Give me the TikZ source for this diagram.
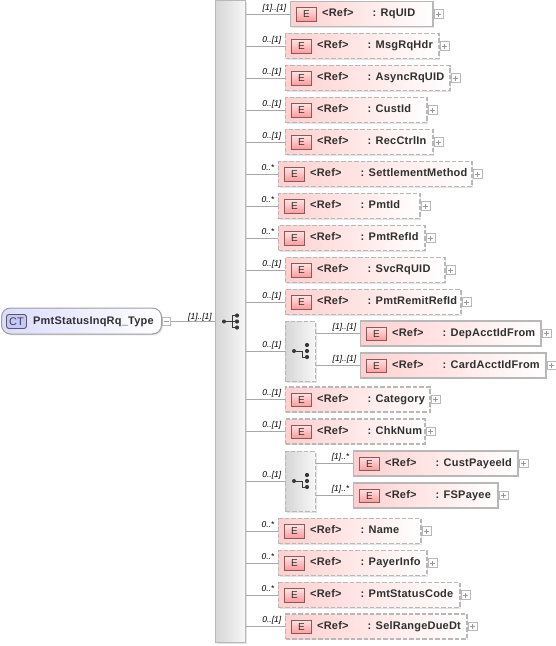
\documentclass[tikz,border=0pt]{standalone}
\usepackage{fontspec}
\setmainfont{Liberation Sans}
\newfontfamily\labelfont[LetterSpace=2]{Liberation Sans}
\usetikzlibrary{shadows,calc}
\definecolor{edge}{HTML}{B8B8B8}
\definecolor{pinkL}{HTML}{FFD0D0}
\definecolor{iconB}{HTML}{8A5A5A}
\definecolor{txt}{HTML}{303030}
\definecolor{conn}{HTML}{A8A8A8}
\tikzset{
  x=1pt,y=-1pt,
  softshadow/.style={general shadow={shadow xshift=1.4pt,shadow yshift=-1.4pt,fill=black,opacity=.11}},
  elbase/.style={softshadow,draw=edge,line width=1.2pt,left color=pinkL,right color=white,inner sep=0,minimum height=25pt,anchor=west},
  solidel/.style={elbase},
  dashel/.style={elbase,dash pattern=on 4.5pt off 2pt},
  eicon/.style={draw=iconB,line width=.9pt,top color=pinkL!60,bottom color=red!40!white,minimum width=20pt,minimum height=13.5pt,inner sep=0,text=txt,font=\fontsize{10}{10}\selectfont},
  reftxt/.style={inner sep=0,anchor=base west,text=txt,font=\fontsize{11}{11}\labelfont\bfseries},
  mult/.style={inner sep=0,anchor=base east,text=black,font=\fontsize{8.5}{9}\selectfont\itshape},
  plusbox/.style={draw=black!28,line width=.6pt,fill=white,minimum size=8.5pt,inner sep=0,anchor=west},
  link/.style={draw=conn,line width=.9pt},
  compbox/.style={softshadow,draw=edge,line width=1pt,left color=black!16,right color=black!3,inner sep=0},
  dot/.style={circle,fill=black!78,inner sep=0,minimum size=4.2pt},
}
% \elem{name}{style}{left}{right}{centre y}{multiplicity}{label}{link from}
\newcommand{\elem}[8]{%
  \pgfmathsetlengthmacro{\elwidth}{#4-#3-.6}%
  \node[#2,minimum width=\elwidth] (#1) at (#3,#5) {};
  \node[eicon] (#1i) at (#3+16.5,#5+.5) {E};
  \node[reftxt] (#1r) at (#3+32,#5+2.5) {<Ref>};
  \node[reftxt] (#1t) at (#3+82.5,#5+2.5) {#7};
  \node[plusbox] (#1p) at (#4+1,#5) {};
  \draw[black!40,line width=.5pt] ($(#1p.center)+(-2.5,0)$) -- ($(#1p.center)+(2.5,0)$);
  \draw[black!40,line width=.5pt] ($(#1p.center)+(0,-2.5)$) -- ($(#1p.center)+(0,2.5)$);
  \draw[link] (#8.east |- #1.west) -- (#1.west);
  \node[mult] (#1m) at (#3-3.5,#5-3.8) {#6};
}
% tree icon
\newcommand{\treeicon}[2]{%
  \node[dot,minimum size=4pt] (#2a) at (#1) {};
  \node[dot] (#2b) at ($(#1)+(13,-6)$) {};
  \node[dot] (#2c) at ($(#1)+(13,0)$) {};
  \node[dot] (#2d) at ($(#1)+(13,6)$) {};
}
\begin{document}
\begin{tikzpicture}
\useasboundingbox (0,0) rectangle (555,646);
% root
\node[softshadow,draw=black!38,line width=1pt,rounded corners=9pt,left color=blue!14,middle color=blue!9,right color=white,minimum width=160pt,minimum height=26pt,inner sep=0,anchor=west] (root) at (1,321) {};
\node[draw=black!65,line width=.9pt,rounded corners=2.5pt,fill=blue!22,minimum width=20pt,minimum height=14pt,inner sep=0,font=\fontsize{11}{11}\selectfont,text=black!75] (ct) at (16.5,321.5) {CT};
\node[reftxt] (rootlabel) at (33,324) {PmtStatusInqRq\_Type};
\node[plusbox] (rootp) at (161.5,321.5) {};
\draw[black!40,line width=.5pt] ($(rootp.center)+(-2.5,0)$) -- ($(rootp.center)+(2.5,0)$);
% main sequence
\node[compbox,minimum width=30pt,minimum height=642pt,anchor=north west] (seq) at (215,0) {};
\draw[link] (rootp.east) -- (seq.west |- rootp.east);
\node[mult] (rootm) at (212,319) {[1]..[1]};
\coordinate (seqic) at (224,321.5);
\draw[black!78,line width=1pt] (seqic) -- ++(8,0) (232,315.5) -- (232,327.5) (232,315.5) -- ++(5,0) (232,321.5) -- ++(5,0) (232,327.5) -- ++(5,0);
\treeicon{seqic}{sq}
% elements
\elem{rq}{solidel}{290}{433}{14}{[1]..[1]}{: RqUID}{seq}
\elem{msg}{dashel}{285}{439}{46}{0..[1]}{: MsgRqHdr}{seq}
\elem{asy}{dashel}{285}{450}{78}{0..[1]}{: AsyncRqUID}{seq}
\elem{cust}{dashel}{285}{427}{110}{0..[1]}{: CustId}{seq}
\elem{rec}{dashel}{285}{433}{142}{0..[1]}{: RecCtrlIn}{seq}
\elem{setl}{dashel}{278}{472}{174}{0..*}{: SettlementMethod}{seq}
\elem{pid}{dashel}{278}{420}{206}{0..*}{: PmtId}{seq}
\elem{pref}{dashel}{278}{425}{238}{0..*}{: PmtRefId}{seq}
\elem{svc}{dashel}{285}{445}{270}{0..[1]}{: SvcRqUID}{seq}
\elem{rem}{dashel}{285}{461}{302}{0..[1]}{: PmtRemitRefId}{seq}
% first choice
\node[compbox,dash pattern=on 4.5pt off 2pt,minimum width=30pt,minimum height=60pt,anchor=north west] (cha) at (285,321) {};
\draw[link] (seq.east |- cha.west) -- (cha.west);
\node[mult] (cham) at (281.5,347.2) {0..[1]};
\coordinate (chaic) at (294,351);
\draw[black!78,line width=1pt] (chaic) -- ++(8,0) (302,351) -- (302,357) -- (307,357);
\elem{dep}{solidel}{360}{541}{333.5}{[1]..[1]}{: DepAcctIdFrom}{cha}
\elem{card}{solidel}{360}{546}{365.5}{[1]..[1]}{: CardAcctIdFrom}{cha}
\treeicon{chaic}{chi}
\elem{cat}{dashel}{285}{430}{399.5}{0..[1]}{: Category}{seq}
\elem{chk}{dashel}{285}{425}{431.5}{0..[1]}{: ChkNum}{seq}
% second choice
\node[compbox,dash pattern=on 4.5pt off 2pt,minimum width=30pt,minimum height=60pt,anchor=north west] (chb) at (285,451) {};
\draw[link] (seq.east |- chb.west) -- (chb.west);
\node[mult] (chbm) at (281.5,477.2) {0..[1]};
\coordinate (chbic) at (294,481);
\draw[black!78,line width=1pt] (chbic) -- ++(8,0) (302,481) -- (302,487) -- (307,487);
\elem{cpay}{solidel}{353}{518}{463.5}{[1]..*}{: CustPayeeId}{chb}
\elem{fsp}{solidel}{353}{498}{495.5}{[1]..*}{: FSPayee}{chb}
\treeicon{chbic}{chj}
\elem{nam}{dashel}{278}{421}{531}{0..*}{: Name}{seq}
\elem{pay}{dashel}{278}{427}{563}{0..*}{: PayerInfo}{seq}
\elem{stat}{dashel}{278}{460}{595}{0..*}{: PmtStatusCode}{seq}
\elem{sel}{dashel}{285}{467}{626.5}{0..[1]}{: SelRangeDueDt}{seq}
\end{tikzpicture}
\end{document}
